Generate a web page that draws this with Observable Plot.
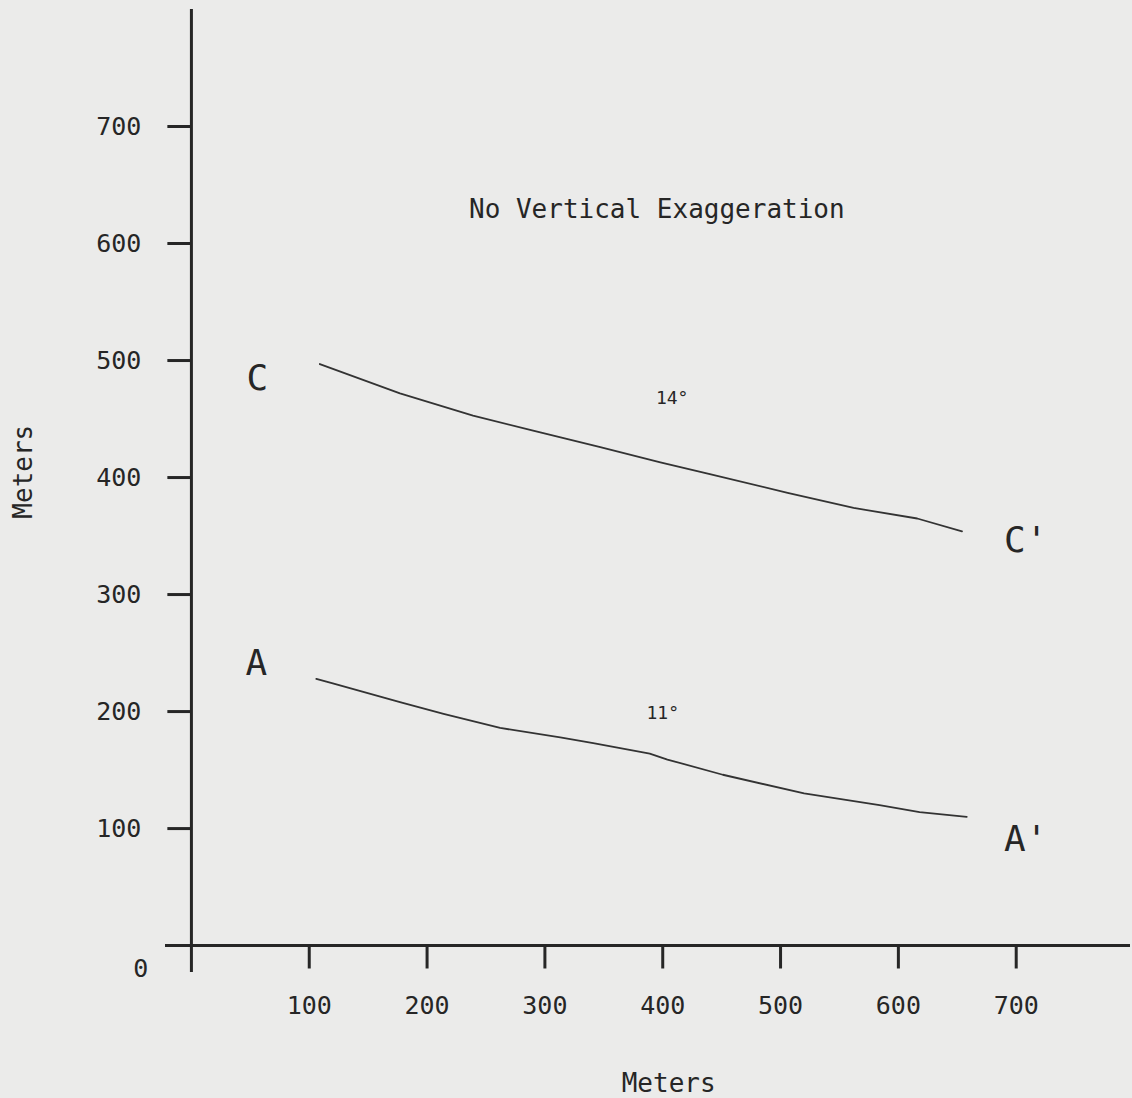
<!DOCTYPE html>
<html>
<head>
<meta charset="utf-8">
<script src="https://cdn.jsdelivr.net/npm/d3@7"></script>
<script src="https://cdn.jsdelivr.net/npm/@observablehq/plot@0.6"></script>
<style>
  html, body { margin: 0; padding: 0; background: #ebebea; }
  #chart { width: 1132px; height: 1098px; }
</style>
</head>
<body>
<div id="chart"></div>
<script>
// Profile C–C' (meters along, elevation in meters)
const profileCx = [109, 177, 239, 290, 347, 398, 440, 506, 562, 616, 654];
const profileCy = [497, 472, 453, 440, 426, 413, 403, 387, 374, 365, 354];
// Profile A–A'
const profileAx = [106, 120, 177, 214, 262, 313, 341, 389, 404, 451, 520, 584, 618, 658];
const profileAy = [228, 224, 208, 198, 186, 178, 173, 164, 159, 146, 130, 120, 114, 110];

const xTicks = [100, 200, 300, 400, 500, 600, 700];
const yTicks = [100, 200, 300, 400, 500, 600, 700];

const endLabels = ["C", "C'", "A", "A'"];
const endLabelX = [56, 708, 55, 708];
const endLabelY = [485, 346, 241, 91];

const angleLabels = ["14°", "11°"];
const angleLabelX = [408, 400];
const angleLabelY = [468, 199];

const title = "No Vertical Exaggeration";
const titleX = 395;
const titleY = 629;
const axisTitle = "Meters";
const xTitleX = 405;
const yTitleY = 405;

const lineC = profileCx.map((x, i) => ({x, y: profileCy[i]}));
const lineA = profileAx.map((x, i) => ({x, y: profileAy[i]}));
const ends = endLabels.map((t, i) => ({t, x: endLabelX[i], y: endLabelY[i]}));
const angles = angleLabels.map((t, i) => ({t, x: angleLabelX[i], y: angleLabelY[i]}));

const ink = "#262626";
const font = "DejaVu Sans Mono";

const chart = Plot.plot({
  width: 1132,
  height: 1098,
  marginLeft: 165,
  marginRight: 2,
  marginTop: 9,
  marginBottom: 126,
  x: {domain: [-22, 797], axis: null},
  y: {domain: [-23, 800], axis: null},
  style: {background: "transparent", fontFamily: font, color: ink, overflow: "visible"},
  marks: [
    // axes lines
    Plot.ruleY([0], {stroke: ink, strokeWidth: 3}),
    Plot.ruleX([0], {stroke: ink, strokeWidth: 3}),
    // x ticks (downward)
    Plot.ruleX(xTicks, {x: d => d, y1: 0, y2: -20, stroke: ink, strokeWidth: 3}),
    // y ticks (leftward)
    Plot.ruleY(yTicks, {y: d => d, x1: -20, x2: 0, stroke: ink, strokeWidth: 3}),
    // tick labels
    Plot.text(xTicks, {x: d => d, y: 0, dy: 60, text: d => String(d), fontSize: 25, fill: ink}),
    Plot.text(yTicks, {x: 0, y: d => d, dx: -50, text: d => String(d), textAnchor: "end", fontSize: 25, fill: ink}),
    Plot.text([0], {x: 0, y: 0, dx: -43, dy: 23, text: d => String(d), textAnchor: "end", fontSize: 25, fill: ink}),
    // axis titles
    Plot.text([axisTitle], {x: xTitleX, y: 0, dy: 138, text: d => d, fontSize: 26, fill: ink}),
    Plot.text([axisTitle], {x: 0, y: yTitleY, dx: -168, text: d => d, rotate: -90, fontSize: 26, fill: ink}),
    // profiles
    Plot.line(lineC, {x: "x", y: "y", stroke: "#333", strokeWidth: 1.8}),
    Plot.line(lineA, {x: "x", y: "y", stroke: "#333", strokeWidth: 1.8}),
    // labels
    Plot.text(ends, {x: "x", y: "y", text: "t", fontSize: 36, fill: ink}),
    Plot.text(angles, {x: "x", y: "y", text: "t", fontSize: 18, fill: ink}),
    Plot.text([title], {x: titleX, y: titleY, text: d => d, fontSize: 26, fill: ink})
  ]
});
document.getElementById("chart").appendChild(chart);
</script>
</body>
</html>
